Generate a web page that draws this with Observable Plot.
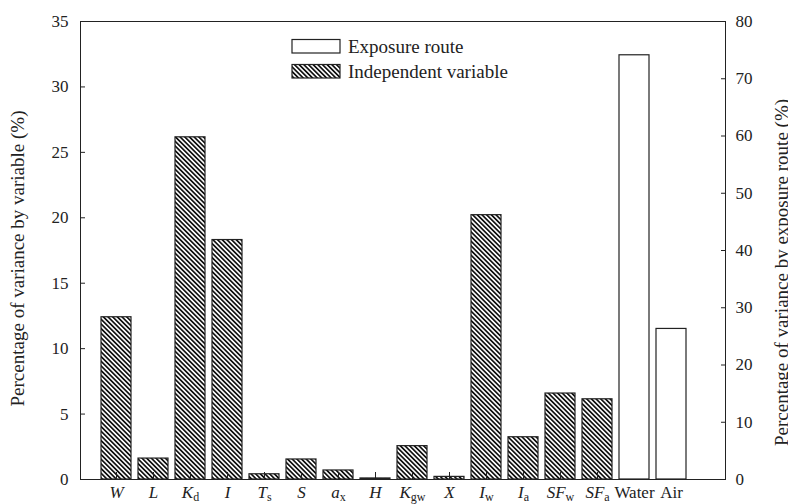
<!DOCTYPE html>
<html><head><meta charset="utf-8">
<script src="https://cdn.jsdelivr.net/npm/d3@7"></script>
<script src="https://cdn.jsdelivr.net/npm/@observablehq/plot@0.6"></script>
<style>body{margin:0;background:#fff} #chart{width:788px;height:504px}
#chart svg text, #chart svg tspan{font-family:'Liberation Serif','Times New Roman',serif !important}</style>
</head><body><div id="chart"></div>
<script>
// ---- data ----
const categories = ["W","L","Kd","I","Ts","S","ax","H","Kgw","X","Iw","Ia","SFw","SFa","Water","Air"];
const labelBase  = ["W","L","K","I","T","S","a","H","K","X","I","I","SF","SF","Water","Air"];
const labelSub   = ["","","d","","s","","x","","gw","","w","a","w","a","",""];
const variableCategories = categories.slice(0, 14);
const variableValues = [12.4, 1.6, 26.15, 18.3, 0.4, 1.53, 0.69, 0.08, 2.55, 0.2, 20.2, 3.23, 6.57, 6.13]; // left axis (%)
const routeCategories = ["Water", "Air"];
const routeValues = [74.1, 26.3]; // right axis (%)
const leftTicks = [0, 5, 10, 15, 20, 25, 30, 35];
const rightTicks = [0, 10, 20, 30, 40, 50, 60, 70, 80];
const leftMax = 35, rightMax = 80;
const leftLabel = "Percentage of variance by variable (%)";
const rightLabel = "Percentage of variance by exposure route (%)";
const legendLabels = ["Exposure route", "Independent variable"];

// ---- chart ----
const k = leftMax / rightMax;
const varData = variableCategories.map((c, i) => ({cat: c, v: variableValues[i]}));
const routeData = routeCategories.map((c, i) => ({cat: c, v: routeValues[i] * k}));
const font = "'Liberation Serif','Times New Roman',serif";
const ink = "#222";
const blank = () => "";

const svg = Plot.plot({
  width: 788, height: 504,
  marginLeft: 80, marginRight: 63, marginTop: 21, marginBottom: 25,
  style: {fontFamily: font, fontSize: "17px", background: "#fff", color: ink},
  x: {type: "band", domain: categories, range: [97.5, 689.5], paddingInner: 0.19, paddingOuter: 0.095, label: null},
  y: {domain: [0, leftMax], label: null},
  marks: [
    Plot.barY(varData, {x: "cat", y: "v", fill: "url(#hatch)", stroke: ink, strokeWidth: 1.2}),
    Plot.barY(routeData, {x: "cat", y: "v", fill: "white", stroke: ink, strokeWidth: 1.2}),
    Plot.axisX(variableCategories, {tickSize: 7, dy: -7, tickFormat: blank, stroke: ink}),
    Plot.axisX({tickSize: 0, tickPadding: 6, fontSize: 17, fontFamily: font}),
    Plot.axisY(leftTicks, {anchor: "left", tickSize: 5, dx: 5, tickFormat: blank, stroke: ink}),
    Plot.axisY(leftTicks, {anchor: "left", tickSize: 0, tickPadding: 12, fontSize: 17, fontFamily: font}),
    Plot.axisY(rightTicks.map(t => t * k), {anchor: "right", tickSize: 5, dx: -5, tickFormat: blank, stroke: ink}),
    Plot.axisY(rightTicks.map(t => t * k), {anchor: "right", tickSize: 0, tickPadding: 10, fontSize: 17, fontFamily: font, tickFormat: d => String(Math.round(d / k))}),
    Plot.frame({stroke: ink}),
    Plot.text([leftLabel], {frameAnchor: "left", text: d => d, rotate: -90, textAnchor: "middle", dx: -63, dy: 8, fontSize: 19, fontFamily: font, fill: ink}),
    Plot.text([rightLabel], {frameAnchor: "right", text: d => d, rotate: -90, textAnchor: "middle", dx: 56, dy: 22, fontSize: 19, fontFamily: font, fill: ink})
  ]
});

// hatch pattern
const S = d3.select(svg);
const defs = S.insert("defs", ":first-child");
const pat = defs.append("pattern").attr("id", "hatch").attr("patternUnits", "userSpaceOnUse")
  .attr("width", 3.3).attr("height", 3.3).attr("patternTransform", "rotate(-45)");
pat.append("rect").attr("width", 3.3).attr("height", 3.3).attr("fill", "white");
pat.append("rect").attr("x", 0).attr("y", 0).attr("width", 1.7).attr("height", 3.3).attr("fill", "#111");

// x tick labels with italic base and subscripts
S.selectAll('g[aria-label="x-axis tick label"] text').each(function () {
  const key = this.textContent.trim();
  const i = categories.indexOf(key);
  if (i < 0) return;
  const t = d3.select(this);
  t.text(null);
  const b = t.append("tspan").text(labelBase[i]);
  if (i < variableCategories.length) b.attr("font-style", "italic");
  if (labelSub[i]) t.append("tspan").attr("font-size", 12).attr("dy", "0.3em").text(labelSub[i]);
});

// legend
const lg = S.append("g").attr("font-family", font).attr("font-size", 19).attr("fill", ink).attr("text-anchor", "start");
legendLabels.forEach((lab, i) => {
  lg.append("rect").attr("x", 292).attr("y", 39.5 + i * 25).attr("width", 48).attr("height", 13.5)
    .attr("fill", i === 0 ? "white" : "url(#hatch)").attr("stroke", ink).attr("stroke-width", 1.2);
  lg.append("text").attr("x", 348).attr("y", 46.5 + i * 25).attr("dy", "0.35em").text(lab);
});

S.selectAll("text").attr("font-family", font);

document.getElementById("chart").appendChild(svg);
</script>
</body></html>
